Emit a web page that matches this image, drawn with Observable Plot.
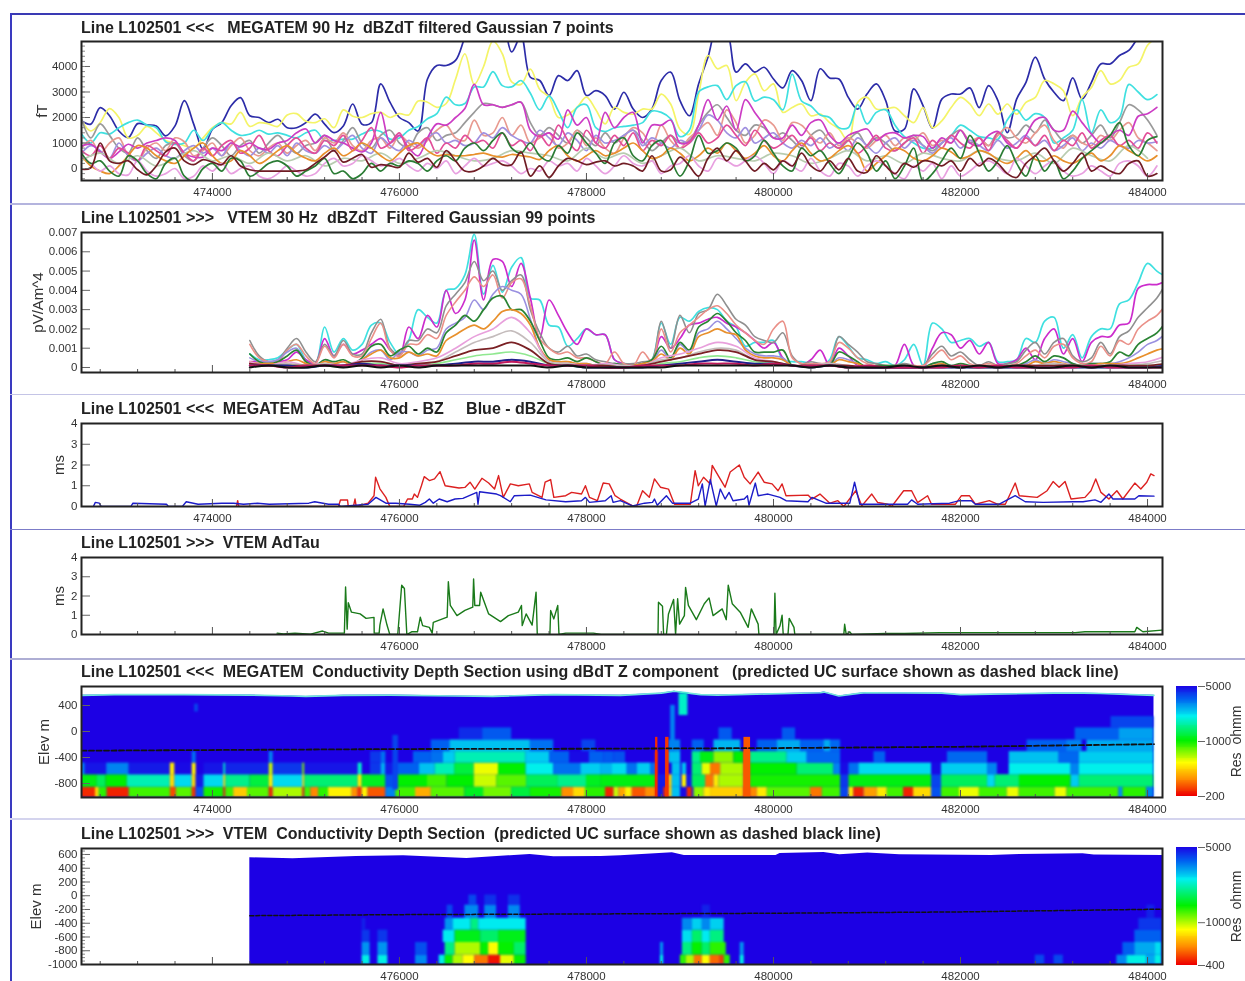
<!DOCTYPE html>
<html><head><meta charset="utf-8">
<script src="https://cdn.jsdelivr.net/npm/d3@7"></script>
<script src="https://cdn.jsdelivr.net/npm/@observablehq/plot@0.6"></script>
<style>
html,body{margin:0;padding:0;background:#fff}
#page{position:relative;width:1245px;height:981px;overflow:hidden;background:#fff;filter:blur(.5px)}
#page>svg,#page>div{position:absolute}
.title{left:81px;font:bold 16px "Liberation Sans",Arial,sans-serif;color:#222;white-space:pre;line-height:16px}
.sep{left:10px;right:0}
</style></head><body><div id="page"></div>
<script>
// ---------- shared axis ----------
const xDomain = [472600, 484160];
const xTicks = [474000, 476000, 478000, 480000, 482000, 484000];
const xTicksNo474 = [476000, 478000, 480000, 482000, 484000];

// ---------- panel text ----------
const titles = [
  "Line L102501 <<<   MEGATEM 90 Hz  dBZdT filtered Gaussian 7 points",
  "Line L102501 >>>   VTEM 30 Hz  dBZdT  Filtered Gaussian 99 points",
  "Line L102501 <<<  MEGATEM  AdTau    Red - BZ     Blue - dBZdT",
  "Line L102501 >>>  VTEM AdTau",
  "Line L102501 <<<  MEGATEM  Conductivity Depth Section using dBdT Z component   (predicted UC surface shown as dashed black line)",
  "Line L102501 >>>  VTEM  Conductivity Depth Section  (predicted UC surface shown as dashed black line)"
];

// ---------- panel 1: MEGATEM dBZdT (fT), 100 m samples from 472600 ----------
const m90Blue = [1870,1740,2390,2070,1470,1210,1760,1710,1670,1280,1670,2660,1740,750,1540,1800,2460,2780,2070,2000,1800,1930,1600,1600,1800,2130,1740,1410,1670,2530,1740,1800,3320,2590,2000,1800,1470,3510,4040,4040,4240,5150,6000,6000,6000,5800,4570,5200,3580,3450,2860,3640,3450,3840,2860,3050,2860,2330,2990,2330,2000,2330,3450,3780,2660,2070,3320,4370,5550,5400,3780,4100,3780,3970,3510,3160,3840,3450,2660,3910,3550,3510,2790,2330,2920,3320,2660,1470,1540,3120,2460,1580,2720,2920,2920,3160,2390,3250,2660,1410,2720,3380,4370,3510,2990,2660,3550,2720,3380,4100,4100,4430,4630,5150,5680,5800];
const m90Yellow = [1900,1470,1800,2350,2000,1200,1300,1650,1400,1100,1000,900,800,1200,1600,1800,1750,2200,1650,1800,1750,1650,2100,2150,1850,1800,1950,1600,2300,2050,2000,2150,2200,2000,2150,2100,2650,2600,2400,2550,3500,4500,3300,4000,5000,4500,3400,3300,3900,3100,2800,2000,2100,2400,2800,2300,1750,2400,2200,2130,2330,2330,2920,2530,1540,1340,2920,4430,3910,4040,2660,3380,3710,3050,3320,2200,2390,2530,2070,2130,1800,1540,1080,2590,2790,2330,2330,2390,2070,1800,2390,1600,1870,2390,2790,2530,2070,2530,2130,2530,2130,2590,2790,3450,3320,3050,2070,2790,3180,3840,3320,3450,3970,4100,4830,5150];
const m90Cyan = [1350,1000,1400,1350,1600,1800,1900,1700,1600,1050,950,1000,1500,1100,1550,1800,1500,1300,1350,1500,1350,1400,1300,1200,1400,1500,1100,1100,1150,1150,1350,1500,1450,1150,1200,1500,1650,1950,2150,2800,2500,2550,3200,3200,3800,3250,3200,3450,2950,2300,2850,2250,1600,2400,2500,1600,1450,1600,1650,1700,1800,2250,2200,1950,1250,1500,3000,3200,3250,2700,3250,3400,2650,2800,2700,2300,3700,2650,2450,2100,2000,1600,1600,2500,1750,2200,2300,1700,1250,1000,800,800,1000,1300,1700,1500,1250,1200,1150,1900,2300,1900,2150,2000,1000,1200,1500,2700,1400,2300,1800,2000,3300,3000,2700,2900];
const m90Magenta = [880,950,650,400,650,950,800,1000,1100,1200,1100,600,450,450,800,700,1000,850,1000,800,750,1000,1100,1400,1550,1000,1300,1100,1000,800,650,1000,2200,1000,1300,800,500,1200,1750,1700,2000,2350,3300,2500,2500,2400,2500,2600,1500,1250,1400,1150,2300,1700,2000,1000,2200,1600,2000,2200,1000,1700,1700,1900,1000,1050,1700,2700,1900,2450,1500,2700,2200,1700,1200,1200,1700,1300,1800,1900,1300,1000,1300,1450,1550,1100,1350,1400,1200,1300,1250,800,1200,1000,1500,1000,900,1300,1450,1000,800,1300,1900,2000,1500,1500,2250,1800,1350,1000,1300,1500,1300,2050,2150,2400];
const m90Gray = [1950,1200,1750,1300,800,600,1200,700,400,900,1000,500,300,800,1200,900,500,900,1100,600,1000,1300,900,600,900,1000,1300,700,1100,1600,1000,800,1300,1500,1000,800,1400,1600,1100,1300,1400,1800,2200,2550,2500,2400,2500,2600,1800,1300,1600,1300,1000,1500,1200,900,1400,1000,1300,1500,1100,700,1000,1300,1000,1100,1700,2200,2500,2000,1500,1300,1700,1600,1200,1400,1100,800,1300,1500,1050,800,1100,1400,900,1200,1000,700,1000,1300,900,700,1000,1300,1500,1000,1200,900,1400,1200,1300,1700,1400,1900,1500,1100,1300,1000,1300,1700,1200,1800,2500,2300,1900,1300];
const m90Salmon = [800,1100,600,1000,1200,500,300,800,1000,700,1200,1050,500,700,1000,500,900,1200,700,500,800,1000,600,900,1100,700,1200,1000,1400,900,700,1100,1200,800,1300,1000,800,1100,1500,1700,1200,1100,1900,1300,1400,2000,1300,1700,1000,1200,1400,800,1000,1500,900,1200,800,600,1200,1600,1400,900,1700,1100,800,1200,1500,1800,1300,2300,1800,1000,1300,1900,1700,1100,1800,1700,1300,1000,1400,900,1200,1000,800,1100,1300,900,1200,1100,1400,900,1100,1000,1500,1100,1200,900,1300,1600,1200,1000,1400,1700,1100,800,1300,1000,900,1300,1100,1500,1800,1200,1000,700];
const m90Violet = [600,900,700,400,1000,500,300,600,800,500,400,700,900,600,800,500,1000,700,500,800,600,900,500,1000,700,600,900,700,1000,1300,800,600,1200,900,700,1100,900,1200,1400,1000,1100,900,1000,1400,1200,1600,1300,1100,1000,1500,1200,900,1400,1100,700,1300,1000,1100,1300,1500,900,1200,1000,800,1100,1000,1500,2100,1900,1400,1200,1600,1000,1200,1400,1000,800,1100,900,1200,800,1000,700,1200,900,600,1000,1200,800,1100,900,600,1000,1200,800,1100,900,700,1100,800,1000,1300,900,1100,700,900,1200,700,1000,800,1100,900,800,1100,1000,1050];
const m90Crimson = [700,500,900,400,800,600,300,900,700,500,1000,600,300,800,500,900,1100,600,800,1300,700,500,900,1200,800,600,1100,900,1300,700,1100,1600,800,1000,1400,700,900,1200,600,1000,800,1300,1000,1100,800,1400,900,1100,700,1300,900,1700,1100,700,1500,1000,800,1300,900,1400,700,1100,900,1300,800,1000,1400,1000,1200,1700,1300,900,1500,1100,800,1000,1300,900,1200,700,1000,800,1100,600,900,1300,800,700,1000,1200,600,1100,800,1300,1000,800,1200,700,1400,1100,800,1200,900,1300,700,1100,900,1400,800,1100,1300,900,1100,800,1400,1000];
const m90Orange = [500,100,-100,-200,100,500,900,800,500,300,200,500,800,1000,500,200,300,700,500,200,400,700,900,600,400,300,600,800,500,700,1000,800,500,300,600,900,1000,700,500,550,500,500,550,600,500,450,550,500,450,350,700,900,500,300,500,700,500,600,800,1000,700,400,500,800,600,300,500,800,600,1000,700,400,600,900,500,300,700,1000,600,300,400,700,900,600,-100,200,500,800,700,400,300,500,800,650,400,500,700,600,350,200,400,700,350,300,500,300,200,400,600,300,500,900,700,500,300,500];
const m90Pink = [500,200,-100,100,-200,-250,300,-100,-300,-200,0,-400,-300,100,-100,200,-200,0,100,-300,-400,-200,100,-100,-300,-200,200,400,100,200,500,300,100,200,400,100,-100,200,0,300,-200,100,400,100,200,300,100,-200,0,-100,300,100,200,-100,400,100,-200,100,500,200,100,300,-200,100,200,500,100,-100,400,300,100,300,500,200,-200,300,100,-100,400,-100,-300,200,100,-300,100,300,100,-200,-400,100,-100,200,-400,100,-300,-100,200,300,100,-200,400,100,-200,100,300,-100,-300,-200,100,-100,-300,200,300,100,-300,100];
const m90Green = [600,200,300,-100,-300,500,300,-200,-400,200,400,-300,-500,0,200,-100,400,300,-300,-100,200,300,100,-300,-100,100,400,-200,-100,-400,-200,200,-100,200,100,300,200,-100,300,500,300,800,1000,700,1100,1400,800,600,1000,500,300,900,600,1400,1000,600,200,1000,1200,500,300,900,1100,400,-300,300,1300,600,700,1000,800,300,500,1100,600,100,-100,800,500,700,200,-200,400,1000,600,-100,300,-400,100,800,-500,-200,300,800,400,1300,600,-100,300,900,200,-300,500,-100,300,-400,-100,400,700,1000,1300,1800,900,500,1100,1250];
const m90Brown = [-30,30,1000,300,200,300,-50,-250,100,650,800,300,150,350,250,150,500,100,-50,-100,-100,-100,-100,-100,-50,200,450,700,250,400,550,50,150,100,50,600,250,400,50,700,300,-100,-100,100,400,150,150,650,-300,100,-350,100,400,300,150,250,300,100,200,100,-100,500,-100,-50,450,100,-300,400,800,300,700,300,-100,200,-50,300,100,600,100,-100,300,-50,400,-100,-150,500,100,-200,200,50,300,250,100,300,-100,400,100,400,200,-200,-350,200,500,800,300,-100,200,600,-100,100,-100,-200,200,300,-300,-200];
// 200 m samples from 472600
const m90Sage = [300,600,200,500,100,400,700,300,500,200,600,300,500,100,400,300,600,200,400,700,500,300,400,700,600,500,300,800,400,600,200,500,800,300,500,400,300,600,500,200,400,700,300,500,200,600,400,300,700,400,300,600,200,800,500,300,900,400];

// ---------- panel 2: VTEM dBZdT (1e-4 pV/Am^4), 100 m samples from 474400 ----------
const v30Cyan = [7,4,4,5,9,12,4,2,21,8,15,9,12,22,23,13,7,14,30,26,23,40,41,48,69,38,53,39,52,57,36,35,22,21,11,15,20,17,17,4,2,1,2,4,23,12,26,24,29,31,30,24,21,11,13,13,14,4,3,3,2,1,4,16,11,5,4,2,3,1,4,12,1,23,20,13,14,15,11,13,3,3,4,15,13,24,26,10,17,5,16,20,20,33,35,44,54,50,47];
const v30Magenta = [3,3,3,3,4,8,4,2,15,6,12,7,9,12,15,9,6,21,15,27,21,40,28,35,66,35,56,55,42,54,36,15,35,27,18,12,20,17,17,4,2,1,2,3,16,10,15,22,23,25,26,23,21,18,14,10,13,5,1,1,4,9,1,10,6,1,0,0,0,1,12,1,0,10,18,17,10,14,7,13,2,2,4,10,4,15,20,7,15,3,13,16,16,22,23,41,43,43,45];
const v30Gray = [14,6,3,4,10,15,8,3,12,6,14,7,7,18,25,10,7,14,14,20,18,32,38,44,55,45,50,40,45,48,30,18,10,8,11,6,7,4,3,2,2,2,3,4,24,10,27,18,28,30,38,32,25,22,16,14,13,18,6,2,3,2,2,16,12,8,3,2,1,1,2,1,1,7,11,6,8,4,1,3,1,2,3,9,13,7,13,15,6,3,5,13,7,16,19,26,31,36,44];
const v30Salmon = [12,5,3,3,9,12,6,2,11,5,12,6,6,15,23,9,6,12,12,17,15,27,34,40,47,42,48,36,44,46,32,15,10,7,8,5,5,3,2,8,2,1,8,3,20,8,18,22,26,30,32,28,22,18,14,12,20,24,5,2,2,2,3,13,10,5,2,1,1,1,1,1,1,5,9,4,6,2,1,2,1,1,2,6,9,5,11,12,5,2,3,11,6,14,12,20,24,27,33];
const v30Green = [7,3,2,3,6,9,3,1,4,3,4,2,5,11,12,6,9,11,7,10,8,18,22,27,24,30,36,37,30,30,24,14,5,4,5,3,5,3,1,2,1,1,2,4,11,5,13,9,21,24,28,24,18,14,8,8,8,9,1,1,1,1,1,8,6,3,0,1,1,1,1,0,0,2,3,1,2,1,0,1,0,1,1,3,6,3,6,5,2,1,2,2,3,8,6,12,15,18,24];
const v30Violet = [5,3,3,4,8,10,3,1,4,2,3,2,4,8,9,4,8,8,6,9,10,20,23,26,35,30,38,42,40,38,25,10,4,3,3,2,2,1,1,2,1,1,2,3,9,4,12,8,18,20,24,20,15,10,7,6,6,5,1,1,1,1,1,5,4,2,0,1,0,0,0,0,0,2,2,1,1,0,0,0,0,0,1,2,4,2,4,3,2,1,2,2,2,3,5,8,12,14,18];
const v30Orange = [3,2,2,2,3,4,2,1,3,2,3,1,4,7,9,5,5,8,6,7,6,14,17,20,22,20,24,29,30,28,22,10,4,3,3,2,2,1,1,1,1,1,2,3,7,4,10,7,16,18,20,18,17,9,6,5,5,4,1,1,1,1,1,4,3,2,0,0,0,0,0,0,0,1,2,0,1,0,0,0,0,0,1,1,3,2,3,2,1,1,1,2,2,2,3,5,7,9,10];
// 200 m samples from 474400
const v30Pink = [3,1,3,1,2,1,4,5,2,3,5,10,16,20,26,18,3,2,1,2,1,1,5,7,10,13,11,5,3,1,1,2,1,0,0,0,0,1,0,1,0,1,1,2,1,1,1,2,3,6];
const v30Silver = [2,1,2,1,2,1,3,3,1,2,3,8,13,16,19,13,3,2,1,1,1,1,4,5,8,10,9,4,3,1,1,2,1,0,0,0,0,0,0,1,0,0,1,2,1,1,1,1,2,4];
const v30Brown = [2,1,1,1,1,1,3,3,1,2,3,6,9,10,13,9,2,1,1,1,0,1,3,5,7,9,8,4,3,1,1,1,1,0,0,0,0,1,0,1,0,1,1,1,1,0,1,1,1,2];
const v30Mint = [1,1,1,1,1,0,2,2,1,1,2,4,6,7,8,6,2,1,0,1,0,0,2,3,5,6,5,3,2,1,0,1,0,0,0,0,0,0,0,0,0,0,0,1,0,0,0,1,1,1];
const v30Navy = [1,1,1,0,1,1,2,1,1,1,1,2,3,3,4,3,1,1,0,0,0,0,1,2,3,4,3,2,2,1,0,1,0,0,0,0,0,0,0,0,0,0,0,0,0,0,0,0,0,1];
const v30Crimson = [1,1,0,1,1,1,1,1,0,1,1,1,2,2,3,2,1,1,1,0,0,1,1,1,2,2,2,1,2,1,1,1,0,1,0,0,0,0,1,0,1,0,0,0,0,1,0,0,0,0];
const v30Black = [0,1,0,0,1,0,1,0,1,0,1,1,1,1,1,1,0,1,0,0,0,0,0,1,1,1,1,1,1,1,0,1,0,0,0,1,0,1,0,1,0,1,0,0,1,0,1,0,0,0];

// ---------- panel 3: MEGATEM AdTau (ms), [easting, ms] ----------
const tauRed = [[474257,0],[474270,.28],[474282,0],[475348,0],[475369,.31],[475445,.31],[475453,0],[475508,0],[475525,.36],[475538,0],[475665,.16],[475728,.52],[475745,1.41],[475791,.85],[475855,.44],[475897,0],[476045,0],[476087,.36],[476138,.36],[476159,.6],[476193,.44],[476235,1],[476265,1.44],[476320,1.25],[476375,1.33],[476434,1.68],[476489,1],[476637,.89],[476700,.92],[476755,1.17],[476806,.84],[476882,1.36],[476954,1.13],[477017,.84],[477060,1.49],[477110,.44],[477186,1.09],[477271,1],[477389,1.09],[477419,.68],[477525,.44],[477558,1.17],[477617,1.3],[477651,.44],[477778,.52],[477841,.68],[477947,.6],[477989,1],[478032,.44],[478116,.28],[478179,1.13],[478243,1.09],[478306,.52],[478361,.36],[478493,.03],[478535,0],[478600,.76],[478672,.44],[478727,1.33],[478791,.93],[478877,.84],[478941,.11],[479111,.11],[479162,1.73],[479196,1],[479252,1.41],[479324,1.09],[479345,1.98],[479409,1.49],[479482,.93],[479537,1.66],[479635,2],[479687,1.41],[479750,1.09],[479836,1.66],[479900,1.17],[479985,1.09],[480049,.76],[480092,1.09],[480134,.52],[480369,.55],[480411,.36],[480497,.6],[480603,.16],[480688,.28],[480752,0],[480880,.76],[480944,.03],[481051,.6],[481115,.19],[481221,.11],[481264,0],[481392,.76],[481477,.76],[481541,.19],[481648,.52],[481690,.11],[481946,.11],[482010,.52],[482095,.52],[482159,.11],[482308,.28],[482394,.11],[482479,.11],[482522,.52],[482585,1.13],[482628,.52],[482820,.44],[482926,.76],[482990,1.2],[483054,.93],[483118,1.2],[483182,.36],[483331,.44],[483395,.76],[483446,1.33],[483502,.68],[483587,.36],[483672,.76],[483736,.36],[483864,1.13],[483928,.84],[483992,1.17],[484035,1.57],[484069,1.49]];
const tauBlue = [[472727,0],[472748,.2],[472790,.16],[472811,0],[473128,0],[473150,.16],[473509,.11],[473530,0],[473678,0],[473720,.23],[473847,.11],[474101,.16],[474227,.16],[474333,.11],[474481,.16],[474608,.11],[475031,.16],[475094,.23],[475242,.11],[475348,.11],[475369,0],[475665,.11],[475749,.44],[475855,.16],[475961,.16],[476108,.11],[476214,.06],[476277,.2],[476320,.36],[476362,.16],[476425,.36],[476510,.23],[476594,.36],[476679,.39],[476827,.68],[476840,.11],[476857,.71],[477039,.6],[477081,.52],[477186,.23],[477229,.52],[477398,.55],[477567,.32],[477778,.23],[477947,.28],[477989,.44],[478032,.2],[478201,.28],[478264,.52],[478285,.2],[478361,.28],[478493,.03],[478621,.16],[478706,.2],[478727,.36],[478757,.06],[478855,.52],[478919,.16],[479111,.16],[479196,.36],[479239,1.09],[479269,.03],[479324,1.3],[479388,.03],[479431,.84],[479482,.36],[479525,.68],[479567,.28],[479687,.36],[479721,.52],[479738,.06],[479806,1.13],[479836,.52],[479942,.6],[480070,.44],[480134,.28],[480369,.23],[480411,.44],[480560,.16],[480816,.16],[480867,1.17],[480923,.11],[481434,.11],[481477,.32],[481541,.11],[481882,.16],[481989,.28],[482116,.28],[482159,.11],[482415,.11],[482585,.52],[482692,.23],[482884,.2],[483203,.23],[483310,.23],[483438,.32],[483502,.2],[483587,.6],[483630,.36],[483864,.36],[483907,.52],[484069,.5]];

// ---------- panel 4: VTEM AdTau (ms), [easting, ms] ----------
const tauGreen = [[474692,.07],[474760,.03],[474883,.07],[475050,.02],[475178,.18],[475242,.07],[475411,.07],[475424,2.47],[475441,.28],[475453,1.65],[475487,1.16],[475580,1.07],[475643,.84],[475728,.89],[475730,.07],[475783,.07],[475791,.49],[475825,1.33],[475867,.49],[475897,0],[475982,0],[476024,2.56],[476053,2.39],[476079,0],[476130,.14],[476193,.14],[476223,.9],[476248,.46],[476320,.37],[476350,.07],[476362,.63],[476510,.9],[476523,2.74],[476544,1.51],[476615,.98],[476700,1.25],[476784,1.42],[476793,2.88],[476806,1.51],[476857,1.51],[476869,2.2],[476954,1.07],[477081,.67],[477165,.98],[477271,1.16],[477305,1.51],[477313,.46],[477355,1.07],[477419,.49],[477461,2.2],[477474,0],[477609,0],[477617,1.25],[477651,.81],[477693,1.51],[477706,0],[477778,.07],[478074,.07],[478158,0],[478765,0],[478770,1.68],[478813,1.47],[478825,0],[478855,0],[478877,1.07],[478932,1.82],[478953,0],[478975,1.86],[478996,.54],[479047,.98],[479060,2.45],[479090,1.51],[479175,.77],[479260,1.6],[479311,1.9],[479354,.98],[479452,1.33],[479495,.77],[479516,2.56],[479559,1.6],[479644,1.16],[479729,.37],[479763,1.33],[479836,.54],[479844,0],[480006,0],[480015,2.14],[480028,0],[480070,.46],[480092,1],[480104,0],[480155,0],[480168,.84],[480219,.37],[480228,0],[480752,0],[480761,.53],[480778,0],[480816,.14],[480838,0],[481200,.05],[481400,.05],[481775,.1],[482159,.1],[482884,.1],[483225,.1],[483331,.14],[483864,.14],[483885,.37],[483950,.14],[484154,.23]];

// ---------- panel 5: MEGATEM section, runs of [easting where the run starts, resistivity] ----------
const megaBottomE = -1015, megaBands = [-857,-665,-486,-310,-130,55,230];
const megaL1 = [[472600,230],[472750,450],[472790,900],[472875,225],[473110,850],[473551,260],[473614,800],[473784,240],[473826,3600],[473910,950],[474122,240],[474143,850],[474227,420],[474375,800],[474608,230],[474650,650],[474967,240],[474988,850],[475052,320],[475136,900],[475242,500],[475495,330],[475559,240],[475601,500],[475665,270],[475855,3000],[475961,850],[476172,370],[476341,800],[476700,1100],[476900,750],[477200,1200],[477400,950],[477736,330],[477862,450],[477989,900],[478204,225],[478294,600],[478347,360],[478418,500],[478490,270],[478632,330],[478739,230],[478764,4500],[478828,230],[478857,230],[478882,450],[478917,2400],[479007,4800],[479078,230],[479131,4500],[479150,700],[479256,480],[479327,430],[479684,250],[479755,320],[479827,480],[479934,800],[480397,300],[480522,850],[480718,3800],[480807,480],[480860,225],[480968,350],[481110,480],[481217,850],[481392,225],[481498,450],[481690,3600],[481797,850],[481989,550],[482202,850],[482500,550],[482628,850],[483012,550],[483139,850],[483694,2800],[483737,900],[483992,3000],[484069,null]];
const megaL2 = [[472600,1050],[472770,1300],[472860,1000],[473090,1700],[473550,450],[473600,2200],[473784,450],[473826,4500],[473910,2200],[474122,500],[474143,1500],[474400,1200],[474608,500],[474650,2200],[474967,500],[474988,1400],[475559,500],[475601,1100],[475855,3600],[475961,1000],[476300,850],[476510,1000],[476800,600],[477040,800],[477360,1300],[477700,1500],[478000,1100],[478151,1050],[478739,230],[478764,4500],[478857,230],[478882,450],[478917,2400],[479007,4500],[479024,500],[479071,4500],[479131,1300],[479274,300],[479363,480],[479417,650],[479684,280],[479755,950],[480718,4000],[480807,1050],[481690,3800],[481797,1300],[482290,2200],[482370,1400],[482630,1000],[483183,2300],[483270,1400],[484069,null]];
const megaL3 = [[472600,3000],[472640,4600],[472870,3000],[473110,4500],[473550,480],[473600,4800],[473784,500],[473826,5000],[473910,4600],[474122,1800],[474143,4300],[474608,600],[474650,4000],[474967,700],[474988,4600],[475559,1800],[475601,5000],[475690,4000],[475805,2600],[475855,4500],[475961,3400],[476215,2400],[476380,1700],[476590,1200],[476800,550],[477060,1000],[477355,2000],[477650,3200],[477940,2300],[478151,2500],[478270,2200],[478436,3200],[478543,2300],[478686,3200],[478739,230],[478764,5000],[478857,230],[478882,5000],[478917,2400],[479007,5000],[479024,2400],[479071,5000],[479131,1400],[479238,560],[479327,300],[479435,650],[479684,270],[479755,1000],[480254,1400],[480646,3000],[480718,4800],[480807,3200],[480914,2200],[481690,4800],[481797,2300],[482290,3000],[482395,5000],[482521,2000],[483183,3000],[483270,2000],[484069,null]];
const megaL4 = [[472600,5000],[473784,3200],[473826,5000],[474608,3000],[474650,5000],[475690,4000],[475805,3200],[475855,5000],[476150,3400],[476340,3200],[476470,2300],[476595,1700],[477355,2300],[477609,3400],[477820,4800],[478031,3400],[478186,3500],[478294,3600],[478418,5000],[478739,230],[478764,5000],[478857,230],[478882,2400],[479007,5000],[479131,1500],[479220,1050],[479363,700],[479577,1000],[479684,270],[479755,1500],[480147,2300],[480361,3300],[480718,5000],[481074,3400],[481200,5000],[481860,3300],[482290,5000],[482521,2400],[483055,3300],[483270,2300],[484069,null]];
const megaL5 = [[472600,5000],[476340,3400],[476540,2400],[477400,3200],[477650,5000],[477950,3800],[478100,5000],[478882,3000],[479007,5000],[479131,3400],[479260,5000],[479363,2500],[479650,5000],[479827,3400],[480040,2600],[480290,3400],[480540,2600],[480610,3300],[480718,5000],[482712,3400],[483135,3000],[483300,5000],[483352,2600],[484069,null]];
const megaL6 = [[472600,5000],[476640,4200],[476890,3500],[477200,5000],[479417,3500],[479559,5000],[480094,3500],[480236,5000],[483226,3400],[483695,2700],[484069,null]];
const megaL7 = [[472600,5000],[483610,3800],[484069,null]];
const megaSurfaceX = [472600,472950,473700,474400,474850,475000,475400,475900,476600,477000,477650,478365,478800,478940,479130,479220,479400,480500,480540,480700,480930,481000,481800,482000,483000,483310,483500,484069];
const megaSurfaceY = [556,567,567,560,546,540,556,560,546,540,567,556,590,618,582,567,560,596,606,546,590,597,590,567,590,590,585,556];
const megaUcX = [472600,476000,478000,480000,482000,484069];
const megaUcY = [-295,-270,-265,-255,-235,-195];
const spikeStart = [478739,478846,479684], spikeEnd = [478764,478882,479755], spikeRes = [230,240,270];
const plumeStart = [478990,478900,473810,475930], plumeEnd = [479085,478950,473850,475990];
const plumeTop = [587,402,420,-60], plumeBottom = [246,-300,300,-900], plumeRes = [1800,3000,3800,3800];

// ---------- panel 6: VTEM section ----------
const vtemBands = [-864,-680,-500,-330,-137,10];
const vtemL1 = [[474400,5000],[475601,2400],[475686,5000],[475770,2400],[475876,5000],[476172,3300],[476299,5000],[476425,2400],[476489,1400],[476573,1000],[476679,850],[476806,550],[476954,420],[477081,900],[477229,1400],[477355,5000],[478791,2400],[478825,5000],[479004,1300],[479068,1000],[479154,550],[479239,850],[479324,530],[479431,470],[479473,1300],[479537,5000],[479644,2400],[479687,5000],[482800,4000],[482900,5000],[483000,4000],[483100,5000],[483672,3300],[483779,2400],[483992,3000],[484078,2400],[484154,null]];
const vtemL2 = [[474400,5000],[475601,3200],[475686,5000],[475770,3200],[475876,5000],[476172,3900],[476299,5000],[476489,1900],[476595,1000],[476869,1400],[476954,850],[477060,1400],[477229,1800],[477355,5000],[478791,3200],[478825,5000],[479026,1900],[479132,1400],[479239,1800],[479324,1300],[479495,5000],[479644,3200],[479687,5000],[483736,3700],[483864,3000],[484078,2600],[484154,null]];
const vtemL3 = [[474400,5000],[475601,4200],[475686,5000],[475770,4200],[475876,5000],[476468,2500],[476595,1500],[476869,1800],[477060,1500],[477355,5000],[479026,2600],[479132,1800],[479239,2500],[479324,1900],[479473,5000],[483864,3700],[484154,null]];
const vtemL4 = [[474400,5000],[475601,4500],[475640,5000],[476489,3200],[476573,2500],[476764,1900],[476848,2500],[477355,5000],[479026,3300],[479132,2700],[479239,3300],[479324,2700],[479473,5000],[483907,4200],[484154,null]];
const vtemL5 = [[474400,5000],[476510,4000],[476573,5000],[476700,3300],[476848,5000],[476912,3300],[477039,5000],[477165,3300],[477292,5000],[479239,4500],[479324,5000],[483992,4500],[484078,5000],[484154,null]];
const vtemL6 = [[474400,5000],[476743,4000],[476827,5000],[476912,4300],[477039,5000],[477165,4300],[477292,5000],[484154,null]];
const vtemSurfaceX = [474400,474861,475538,476045,476721,477397,477651,478158,478365,478919,479047,480027,480070,480539,480710,481008,481349,482330,482630,483310,483430,484160];
const vtemSurfaceY = [552,537,571,581,542,600,566,571,581,625,586,586,615,630,596,620,596,586,600,610,591,586];
const vtemUcX = [474400,476000,478000,480000,482000,484160];
const vtemUcY = [-290,-275,-265,-255,-235,-195];

// ---------- styling ----------
const rampStops = [0,.15,.3,.5,.72,.88,1];
const rampColors = ["#ee0000","#ff8c00","#ffff00","#00f000","#00f0f0","#0060f0","#1c00e4"];
const ramp = d3.scaleLinear().domain(rampStops).range(rampColors).clamp(true);
const baseBlue = "#1c00e4";

const page = document.getElementById("page");
const font = '"Liberation Sans",Arial,sans-serif';
const grid = (vals, x0, step) => vals.map((v, i) => ({x: x0 + i * step, v}));
const pairs = (xs, ys) => xs.map((x, i) => ({x, v: ys[i]}));
const rows = list => list.map(([x, v]) => ({x, v}));

function place(node, top, left = 0) {
  node.style.top = top + "px"; node.style.left = left + "px";
  page.appendChild(node);
}
function addDiv(cls, styles, text) {
  const d = document.createElement("div");
  d.className = cls; Object.assign(d.style, styles);
  if (text) d.textContent = text;
  page.appendChild(d);
}

function innerTicks(yDomain, frameH, yMajor, yMinor) {
  const unitY = (yDomain[1] - yDomain[0]) / frameH;
  const unitX = (xDomain[1] - xDomain[0]) / 1081;
  const xs = d3.range(472800, 484160, 400);
  return [
    Plot.ruleX(xs, {y1: yDomain[0], y2: d => yDomain[0] + ((d - 474000) % 2000 === 0 ? 7 : 3) * unitY, stroke: "#555", strokeWidth: 1}),
    Plot.ruleY(yMajor, {x1: xDomain[0], x2: xDomain[0] + 9 * unitX, stroke: "#666", strokeWidth: 1}),
    Plot.ruleY(yMinor, {x1: xDomain[0], x2: xDomain[0] + 4 * unitX, stroke: "#888", strokeWidth: 1})
  ];
}

function panel({frameTop, frameBottom, yDomain, yTicks, yFormat, yLabel, labelDx, ticksX, yMinor = [], marks, color, strokeW = 2}) {
  const mt = 10, mb = 20;
  const h = frameBottom - frameTop + mt + mb;
  const opts = {
    width: 1245, height: h, marginLeft: 81, marginRight: 83, marginTop: mt, marginBottom: mb,
    x: {domain: xDomain}, y: {domain: yDomain},
    style: {fontFamily: font, fontSize: "11.5px", color: "#333", background: "transparent", overflow: "visible"},
    marks: [
      ...marks,
      ...innerTicks(yDomain, frameBottom - frameTop, yTicks, yMinor),
      Plot.frame({stroke: "#222", strokeWidth: strokeW}),
      Plot.axisX({ticks: ticksX, tickSize: 0, tickPadding: 7, tickFormat: d => String(d), label: null, fontWeight: 500}),
      Plot.axisY({ticks: yTicks, tickSize: 0, tickPadding: 4, tickFormat: yFormat, label: null, fontWeight: 500}),
      Plot.text([yLabel], {frameAnchor: "left", textAnchor: "middle", rotate: -90, dx: labelDx, fontSize: 15, fill: "#333"})
    ]
  };
  if (color) opts.color = color;
  place(Plot.plot(opts), frameTop - mt);
}

function bandRects(layers, bottom, bands) {
  const out = [];
  layers.forEach((runs, i) => {
    const y1 = i === 0 ? bottom : bands[i - 1], y2 = bands[i];
    runs.forEach((r, j) => {
      if (r[1] == null || r[1] >= 5000) return;
      out.push({x1: r[0], x2: runs[j + 1][0], y1, y2, res: r[1]});
    });
  });
  return out;
}

// ---------- separators and page frame ----------
addDiv("sep", {top: "13px", height: "2px", background: "#3a3ab4"});
addDiv("", {left: "10px", top: "13px", width: "2px", height: "968px", background: "#3a3ac0"});
[[203,2,"#b4b4de"],[394,1,"#c4c4e6"],[529,1,"#7c7cc8"],[658,2,"#aeaed4"],[818,2,"#d4d4ee"]]
  .forEach(([t, h, c]) => addDiv("sep", {top: t + "px", height: h + "px", background: c}));
[20,210,401,535,664,826].forEach((t, i) => addDiv("title", {top: t + "px"}, titles[i]));

// ---------- panel 1 ----------
const p1 = [
  [m90Blue,100,"#2c2ca8"],[m90Yellow,100,"#f4f468"],[m90Cyan,100,"#3fe0e0"],
  [m90Gray,100,"#9a9a9a"],[m90Salmon,100,"#e89a90"],[m90Violet,100,"#a090e0"],
  [m90Magenta,100,"#cc3cc4"],[m90Crimson,100,"#e24e98"],[m90Sage,200,"#b8ccb0"],[m90Orange,100,"#e8902c"],
  [m90Pink,100,"#e8a0e0"],[m90Green,100,"#2a7c34"],[m90Brown,100,"#701c24"]
];
panel({frameTop: 41, frameBottom: 180, yDomain: [-470, 4980], yTicks: [0,1000,2000,3000,4000], yMinor: d3.range(-400,4900,200),
  yFormat: d => String(d), yLabel: "fT", labelDx: -39, ticksX: xTicks,
  marks: p1.map(([v, step, c]) => Plot.line(grid(v, 472600, step), {x: "x", y: "v", stroke: c, strokeWidth: 1.7, curve: "catmull-rom", clip: true}))});

// ---------- panel 2 ----------
const p2 = [
  [v30Cyan,100,"#3fe0e0",1.7],[v30Magenta,100,"#cc2ccc",1.7],[v30Gray,100,"#8f8f8f",1.6],[v30Salmon,100,"#ea9088",1.6],
  [v30Violet,100,"#9a90e0",1.6],[v30Green,100,"#2a8434",1.7],[v30Orange,100,"#e8902c",1.7],[v30Pink,200,"#e8a0dc",1.6],
  [v30Silver,200,"#c4bcbc",1.6],[v30Mint,200,"#90e890",1.6],[v30Brown,200,"#7a2024",1.8],[v30Navy,200,"#20208c",2],
  [v30Crimson,200,"#c0185c",2],[v30Black,200,"#111",2]
];
panel({frameTop: 232, frameBottom: 372, yDomain: [-.00026, .007], yTicks: [0,.001,.002,.003,.004,.005,.006,.007],
  yFormat: d => d === 0 ? "0" : d3.format(".3f")(d), yLabel: "pV/Am^4", labelDx: -43, ticksX: xTicksNo474,
  marks: p2.map(([v, step, c, w]) => Plot.line(grid(v, 474400, step), {x: "x", y: d => d.v / 10000, stroke: c, strokeWidth: w, curve: "catmull-rom", clip: true}))});

// ---------- panels 3, 4 ----------
panel({frameTop: 423, frameBottom: 506, yDomain: [0, 4], yTicks: [0,1,2,3,4], yFormat: d => String(d), yLabel: "ms", labelDx: -22, ticksX: xTicks,
  marks: [
    Plot.line(rows(tauRed), {x: "x", y: "v", stroke: "#dc2020", strokeWidth: 1.4, clip: true}),
    Plot.line(rows(tauBlue), {x: "x", y: "v", stroke: "#1c1cc8", strokeWidth: 1.4, clip: true})
  ]});
panel({frameTop: 557, frameBottom: 634, yDomain: [0, 4], yTicks: [0,1,2,3,4], yFormat: d => String(d), yLabel: "ms", labelDx: -22, ticksX: xTicksNo474,
  marks: [Plot.line(rows(tauGreen), {x: "x", y: "v", stroke: "#1a7a1a", strokeWidth: 1.4, clip: true})]});

// ---------- panels 5, 6 ----------
const colorFor = domain => ({type: "log", domain, interpolate: t => ramp(t), clamp: true});
const cellOpts = {x1: "x1", x2: "x2", y1: "y1", y2: "y2", fill: "res", clip: true};
const softCells = {...cellOpts, imageFilter: "blur(1.3px)"};

panel({frameTop: 686, frameBottom: 797, yDomain: [megaBottomE, 692], yTicks: [-800,-400,0,400], yFormat: d => String(d), yLabel: "Elev m", labelDx: -37, ticksX: xTicks,
  color: colorFor([200, 5000]),
  marks: [
    Plot.areaY(pairs(megaSurfaceX, megaSurfaceY), {x: "x", y1: megaBottomE, y2: "v", fill: baseBlue, clip: true}),
    Plot.line(pairs(megaSurfaceX, megaSurfaceY), {x: "x", y: "v", stroke: "#74e4dc", strokeWidth: 1.6, clip: true}),
    Plot.rect(bandRects([megaL1,megaL2,megaL3,megaL4,megaL5,megaL6,megaL7], megaBottomE, megaBands), softCells),
    Plot.rect(plumeStart.map((x, i) => ({x1: x, x2: plumeEnd[i], y1: plumeBottom[i], y2: plumeTop[i], res: plumeRes[i]})), softCells),
    Plot.rect(spikeStart.map((x, i) => ({x1: x, x2: spikeEnd[i], y1: megaBottomE, y2: -90, res: spikeRes[i]})), cellOpts),
    Plot.line(pairs(megaUcX, megaUcY), {x: "x", y: "v", stroke: "#111", strokeWidth: 1.8, strokeDasharray: "5,2.5", clip: true})
  ]});

panel({frameTop: 848, frameBottom: 964, yDomain: [-1000, 687], yTicks: d3.range(-1000, 601, 200), yMinor: d3.range(-1000, 680, 50),
  yFormat: d => String(d), yLabel: "Elev m", labelDx: -45, ticksX: xTicksNo474,
  color: colorFor([400, 5000]),
  marks: [
    Plot.areaY(pairs(vtemSurfaceX, vtemSurfaceY), {x: "x", y1: -1000, y2: "v", fill: baseBlue, clip: true}),
    Plot.rect(bandRects([vtemL1,vtemL2,vtemL3,vtemL4,vtemL5,vtemL6], -1000, vtemBands), softCells),
    Plot.line(pairs(vtemUcX, vtemUcY), {x: "x", y: "v", stroke: "#111", strokeWidth: 1.5, strokeDasharray: "4,2", clip: true})
  ]});

// ---------- colour bars ----------
function colorBar(top, bottom, domain, ticks) {
  const mt = 8, mb = 8;
  const steps = d3.range(0, 120).map(i => i / 120);
  const lg = d3.scaleLog().domain(domain);
  const node = Plot.plot({
    width: 69, height: bottom - top + mt + mb, marginLeft: 0, marginRight: 48, marginTop: mt, marginBottom: mb,
    x: {domain: [0, 1], axis: null}, y: {type: "log", domain, axis: null},
    style: {fontFamily: font, fontSize: "11.5px", color: "#333", background: "transparent", overflow: "visible"},
    marks: [
      Plot.rect(steps, {x1: 0, x2: 1, y1: t => lg.invert(t), y2: t => lg.invert(t + 1 / 118), fill: t => ramp(t), shapeRendering: "crispEdges"}),
      Plot.axisY({anchor: "right", ticks, tickSize: 7, tickPadding: 1, tickFormat: d => String(d), label: null, fontWeight: 500, stroke: "#666"}),
      Plot.text(["Res  ohmm"], {frameAnchor: "right", textAnchor: "middle", rotate: -90, dx: 39, fontSize: 14, fill: "#333"})
    ]
  });
  place(node, top - mt, 1176);
}
colorBar(686, 796, [200, 5000], [200, 1000, 5000]);
colorBar(847, 965, [400, 5000], [400, 1000, 5000]);
</script></body></html>
